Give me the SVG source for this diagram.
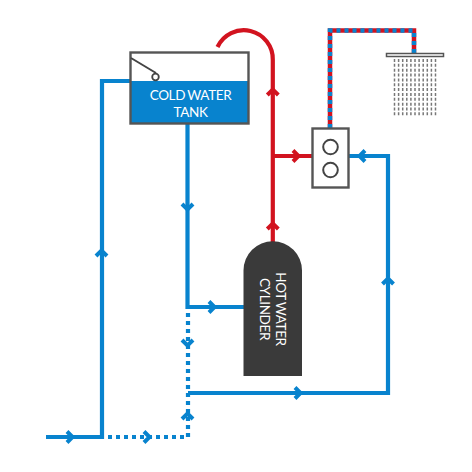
<svg xmlns="http://www.w3.org/2000/svg" width="472" height="472" viewBox="0 0 472 472">
<style>
.b{fill:none;stroke:#0883ce;stroke-width:4.200}
.d{fill:none;stroke:#0883ce;stroke-width:4.200;stroke-dasharray:4 4}
.r{fill:none;stroke:#d2131f;stroke-width:4.200}
.box{stroke:#555;stroke-width:2.400}
.t{font-family:Lato,"Liberation Sans",sans-serif;font-size:13.500px;letter-spacing:-0.350px;word-spacing:-0.800px;fill:#fff;text-anchor:middle}
.ab{fill:none;stroke:#0883ce;stroke-width:4}
.ar{fill:none;stroke:#d2131f;stroke-width:4}
.rain{fill:none;stroke:#777;stroke-width:1.500;stroke-dasharray:3 1.850}
</style>
<defs>
<path id="ch" d="M-4,-5.500 L1.500,0 L-4,5.500"/>
</defs>
<rect width="472" height="472" fill="#fff"/>
<g id="connectors">
<path class="b" d="M46,437H102V81H130"/>
<path class="d" d="M108,437H188V312"/>
<path class="b" d="M187.500,124V307H244"/>
<path class="b" d="M188,393H388V156H349"/>
<path class="r" d="M217.500,47A29,29 0 0 1 272.800,60V242"/>
<path class="r" d="M273,156H312"/>
<path d="M330,128V30.500H414V53" fill="none" stroke="#d2131f" stroke-width="4.500"/>
<path d="M330,128V30.500H414V53" fill="none" stroke="#0883ce" stroke-width="4.500" stroke-dasharray="4 4"/>
<g class="ab">
<use href="#ch" transform="translate(71,437)"/>
<use href="#ch" transform="translate(101.500,252) rotate(-90)"/>
<use href="#ch" transform="translate(187.500,208) rotate(90)"/>
<use href="#ch" transform="translate(213,307)"/>
<use href="#ch" transform="translate(187.500,344) rotate(90)"/>
<use href="#ch" transform="translate(148,437)"/>
<use href="#ch" transform="translate(187.500,415) rotate(-90)"/>
<use href="#ch" transform="translate(299,393)"/>
<use href="#ch" transform="translate(388,280) rotate(-90)"/>
<use href="#ch" transform="translate(361,156) rotate(180)"/>
</g>
<g class="ar">
<use href="#ch" transform="translate(272.800,91) rotate(-90)"/>
<use href="#ch" transform="translate(272.800,225) rotate(-90)"/>
<use href="#ch" transform="translate(297,156)"/>
</g>
</g>
<g id="cold-water-tank">
<rect x="130.500" y="52.500" width="118" height="71" fill="#fff"/>
<rect x="130.500" y="81" width="118" height="42.500" fill="#0883ce"/>
<rect class="box" x="130.500" y="52.500" width="118" height="71" fill="none"/>
<path d="M131,58L156,73" fill="none" stroke="#444" stroke-width="2"/>
<circle cx="155.500" cy="77" r="3.300" fill="#fff" stroke="#444" stroke-width="1.800"/>
<text class="t" x="190.500" y="100">COLD WATER</text>
<text class="t" x="190.500" y="117">TANK</text>
</g>
<g id="hot-water-cylinder">
<path d="M243.500,376V270.500A29.250,29.250 0 0 1 302,270.500V376Z" fill="#3a3a3a"/>
<text class="t" transform="translate(276,309) rotate(90)">HOT WATER</text>
<text class="t" transform="translate(260,309) rotate(90)">CYLINDER</text>
</g>
<g id="mixer">
<rect class="box" x="312.500" y="128.500" width="36" height="59" fill="#fff"/>
<circle cx="330.500" cy="147" r="7.300" fill="#fff" stroke="#444" stroke-width="2"/>
<circle cx="330.500" cy="170" r="7.300" fill="#fff" stroke="#444" stroke-width="2"/>
</g>
<g id="shower-head">
<rect x="386.500" y="53.500" width="57" height="3" fill="#fff" stroke="#555" stroke-width="1.500"/>
<path class="rain" d="M394.500,59V116M398.600,59V116M402.700,59V116M406.800,59V116M410.900,59V116M415,59V116M419.100,59V116M423.200,59V116M427.300,59V116M431.400,59V116M435.500,59V116"/>
</g>
</svg>
